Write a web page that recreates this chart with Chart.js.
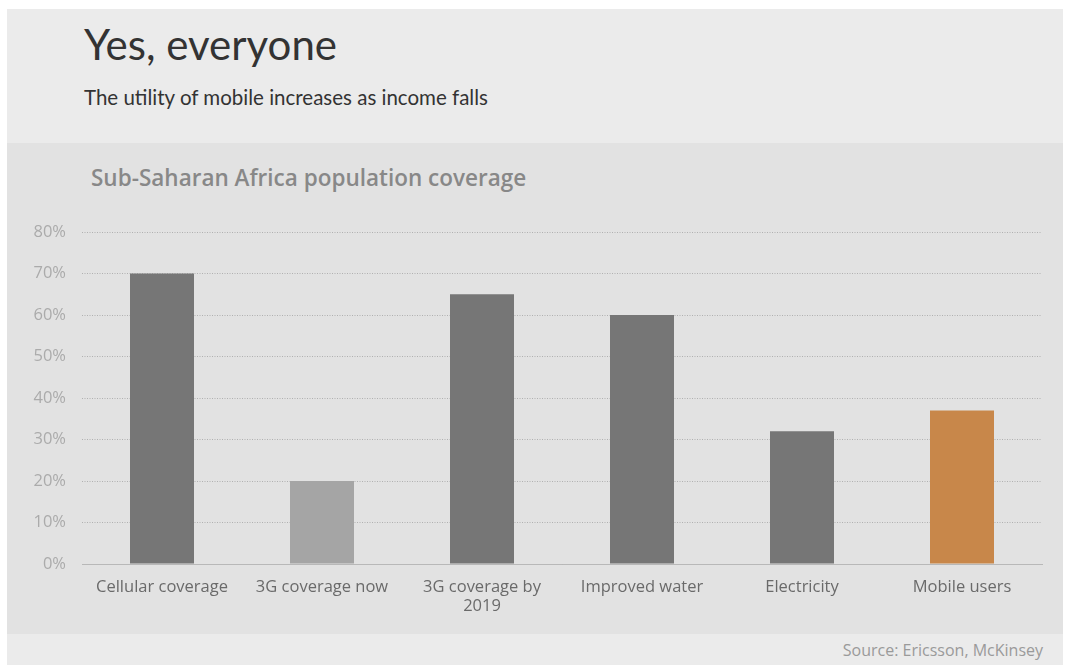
<!DOCTYPE html>
<html>
<head>
<meta charset="utf-8">
<script src="https://cdn.jsdelivr.net/npm/chart.js@4/dist/chart.umd.min.js"></script>
<style>
  html, body { margin: 0; padding: 0; background: #ffffff; }
  body { width: 1069px; height: 665px; position: relative; overflow: hidden; font-family: Lato, "Open Sans", sans-serif; }
  #header { position: absolute; left: 7px; top: 9px; width: 1056px; height: 134px; background: #ebebeb; }
  #panel { position: absolute; left: 7px; top: 143px; width: 1056px; height: 491px; background: #e2e2e2; }
  #footer { position: absolute; left: 7px; top: 634px; width: 1056px; height: 31px; background: #ebebeb; }
  #title { position: absolute; left: 77px; top: 10px; font-size: 42px; color: #333; font-weight: 400; }
  #subtitle { position: absolute; left: 77px; top: 76px; font-size: 20.5px; color: #333; }
  #ctitle { position: absolute; left: 84px; top: 19px; font-family: "Open Sans", sans-serif; font-size: 22.5px; color: #888; font-weight: 600; }
  #source { position: absolute; right: 20px; top: 5px; font-family: "Open Sans", sans-serif; font-size: 16px; color: #9a9a9a; }
  canvas { position: absolute; left: 0; top: 0; }
</style>
</head>
<body>
<div id="header"><div id="title">Yes, everyone</div><div id="subtitle">The utility of mobile increases as income falls</div></div>
<div id="panel"><div id="ctitle">Sub-Saharan Africa population coverage</div><canvas id="c" width="1056" height="491"></canvas></div>
<div id="footer"><div id="source">Source: Ericsson, McKinsey</div></div>
<script>
const categories = ["Cellular coverage", "3G coverage now", ["3G coverage by", "2019"], "Improved water", "Electricity", "Mobile users"];
const values = [70, 20, 65, 60, 32, 37];
const barColors = ["#767676", "#a5a5a5", "#767676", "#767676", "#767676", "#c8874a"];
const yTicks = [0, 10, 20, 30, 40, 50, 60, 70, 80];

new Chart(document.getElementById("c"), {
  type: "bar",
  data: {
    labels: categories,
    datasets: [{ data: values, backgroundColor: barColors, borderWidth: 0, categoryPercentage: 1, barPercentage: 0.4 }]
  },
  options: {
    responsive: false,
    animation: false,
    layout: { padding: { top: 89, right: 21, left: 0, bottom: 0 } },
    plugins: { legend: { display: false }, tooltip: { enabled: false }, title: { display: false } },
    scales: {
      x: {
        grid: { display: false, drawTicks: false },
        border: { display: true, color: "#b8b8b8", width: 1 },
        ticks: { color: "#6a6a6a", font: { family: "Open Sans", size: 16.5, lineHeight: 1.15 }, padding: 14, maxRotation: 0, autoSkip: false },
        afterFit: s => { s.height = 70; }
      },
      y: {
        min: 0, max: 80,
        afterBuildTicks: s => { s.ticks = yTicks.map(v => ({ value: v })); },
        grid: { color: "#b0b0b0", lineWidth: 1, drawTicks: false },
        border: { display: false, dash: [1, 1.5] },
        ticks: { color: "#ababab", font: { family: "Open Sans", size: 16.5 }, padding: 16, callback: v => v + "%" },
        afterFit: s => { s.width = 75; }
      }
    }
  }
});
</script>
</body>
</html>
